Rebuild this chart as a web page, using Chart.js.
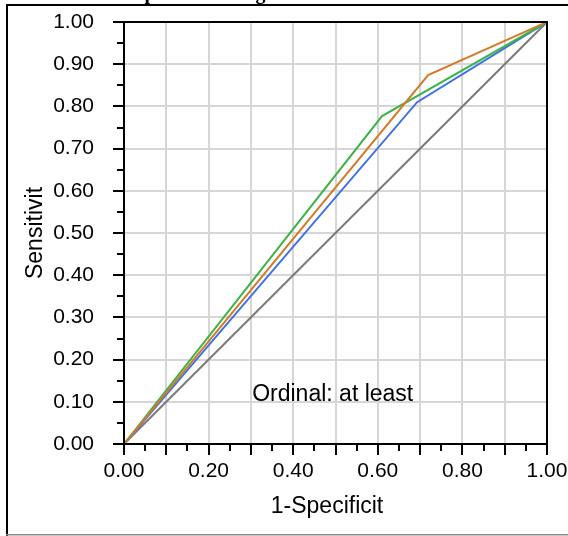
<!DOCTYPE html>
<html>
<head>
<meta charset="utf-8">
<script src="https://cdn.jsdelivr.net/npm/chart.js@4.4.1/dist/chart.umd.min.js"></script>
<style>
  html, body { margin: 0; padding: 0; background: #fff; }
  canvas { display: block; }
</style>
</head>
<body>
<canvas id="rocChart" width="568" height="536"></canvas>
<script>
// ROC curves, ordinal cut-off "at least"
var diagFpr = [0, 1];
var diagTpr = [0, 1];
var blueFpr = [0, 0.693, 1];
var blueTpr = [0, 0.810, 1];
var greenFpr = [0, 0.610, 1];
var greenTpr = [0, 0.777, 1];
var orangeFpr = [0, 0.719, 1];
var orangeTpr = [0, 0.874, 1];

var axisMin = 0;
var axisMax = 1;
var tickStep = 0.05;

var titleText = 'ROC plot for rating';
var xTitle = '1-Specificit';
var yTitle = 'Sensitivit';
var noteText = 'Ordinal: at least';

function toPoints(xs, ys) {
  return xs.map(function (x, i) { return { x: x, y: ys[i] }; });
}

function isMajor(v) {
  return Math.round(v * 100) % 10 === 0;
}

function gridColor(ctx) {
  return ctx.tick && isMajor(ctx.tick.value) ? '#d6d6d6' : 'rgba(0,0,0,0)';
}

// fixed box sizes, no extra room for overhanging labels
function fixBox(s, size) {
  if (s.isHorizontal()) s.height = size; else s.width = size;
  s.paddingTop = 0;
  s.paddingBottom = 0;
  s.paddingLeft = 0;
  s.paddingRight = 0;
}

var tickFont = { family: '"Liberation Sans", Arial, sans-serif', size: 21 };
var textFont = '23px "Liberation Sans", Arial, sans-serif';

var decor = {
  id: 'decor',
  beforeDraw: function (chart) {
    var c = chart.ctx;
    c.save();
    c.fillStyle = '#fff';
    c.fillRect(0, 0, chart.width, chart.height);
    // outer box
    c.fillStyle = '#000';
    c.fillRect(6, 4, 562, 2);
    c.fillRect(6, 4, 2, 532);
    c.fillStyle = '#8a8a8a';
    c.fillRect(6, 534, 562, 1.5);
    // heading, mostly above the visible area
    c.font = 'bold 20px "Liberation Serif", "Times New Roman", serif';
    c.fillStyle = '#000';
    c.textBaseline = 'alphabetic';
    c.textAlign = 'left';
    var start = 150 - c.measureText('ROC ').width - c.measureText('p').width / 2;
    c.fillText(titleText, start, -1);
    c.restore();
  },
  afterDatasetsDraw: function (chart) {
    var c = chart.ctx;
    var a = chart.chartArea;
    var xs = chart.scales.x;
    var ys = chart.scales.y;
    c.save();
    c.strokeStyle = '#000';
    c.lineWidth = 2;
    c.strokeRect(a.left, a.top, a.right - a.left, a.bottom - a.top);

    // tick marks
    c.beginPath();
    xs.ticks.forEach(function (t, i) {
      var px = Math.round(xs.getPixelForTick(i));
      var len = isMajor(t.value) ? 11 : 7;
      c.moveTo(px, a.bottom);
      c.lineTo(px, a.bottom + len);
    });
    ys.ticks.forEach(function (t, i) {
      var py = Math.round(ys.getPixelForTick(i));
      var len = isMajor(t.value) ? 11 : 7;
      c.moveTo(a.left, py);
      c.lineTo(a.left - len, py);
    });
    c.stroke();

    c.fillStyle = '#000';
    c.font = textFont;
    c.textAlign = 'center';
    c.textBaseline = 'middle';
    c.fillText(xTitle, 327, 507);

    c.save();
    c.translate(36, (a.top + a.bottom) / 2);
    c.rotate(-Math.PI / 2);
    c.fillText(yTitle, 0, 0);
    c.restore();

    c.textAlign = 'left';
    c.textBaseline = 'alphabetic';
    c.fillText(noteText, xs.getPixelForValue(0.303), ys.getPixelForValue(0.102));
    c.restore();
  }
};

var ctx = document.getElementById('rocChart').getContext('2d');
var rocChart = new Chart(ctx, {
  type: 'scatter',
  data: {
    datasets: [
      { data: toPoints(orangeFpr, orangeTpr), borderColor: '#d27a28' },
      { data: toPoints(greenFpr, greenTpr), borderColor: '#3db346' },
      { data: toPoints(blueFpr, blueTpr), borderColor: '#3f72e6' },
      { data: toPoints(diagFpr, diagTpr), borderColor: '#7a7a7a' }
    ].map(function (d) {
      d.showLine = true;
      d.borderWidth = 2;
      d.pointRadius = 0;
      d.fill = false;
      d.tension = 0;
      return d;
    })
  },
  options: {
    responsive: false,
    animation: false,
    devicePixelRatio: 1,
    layout: { padding: { top: 22, right: 21, left: 0, bottom: 0 } },
    plugins: {
      legend: { display: false },
      tooltip: { enabled: false }
    },
    scales: {
      x: {
        type: 'linear',
        min: axisMin,
        max: axisMax,
        afterFit: function (s) { fixBox(s, 92); },
        border: { display: false },
        grid: { color: gridColor, lineWidth: 2, drawTicks: false },
        ticks: {
          stepSize: tickStep,
          autoSkip: false,
          maxRotation: 0,
          padding: 15,
          color: '#000',
          font: tickFont,
          callback: function (v, i) { return i % 4 === 0 ? Number(v).toFixed(2) : ''; }
        }
      },
      y: {
        type: 'linear',
        min: axisMin,
        max: axisMax,
        afterFit: function (s) { fixBox(s, 124); },
        border: { display: false },
        grid: { color: gridColor, lineWidth: 2, drawTicks: false },
        ticks: {
          stepSize: tickStep,
          autoSkip: false,
          padding: 30,
          color: '#000',
          font: tickFont,
          callback: function (v, i) { return i % 2 === 0 ? Number(v).toFixed(2) : ''; }
        }
      }
    }
  },
  plugins: [decor]
});
</script>
</body>
</html>
